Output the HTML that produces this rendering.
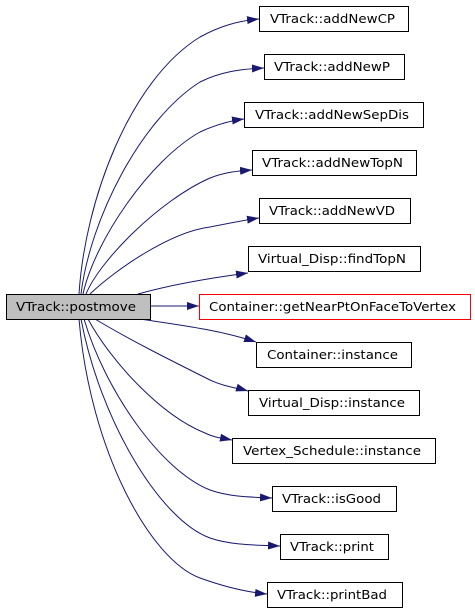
<!DOCTYPE html>
<html><head><style>
body{margin:0;background:#fff;width:475px;height:611px;overflow:hidden}
svg{position:absolute;left:0;top:0}
text{font-family:"DejaVu Sans","Liberation Sans",sans-serif;font-size:12.5px;fill:#000}
</style></head><body>
<svg width="475" height="611" viewBox="0 0 475 611">
<defs><marker id="a" markerWidth="12" markerHeight="8" refX="12" refY="4" orient="auto" markerUnits="userSpaceOnUse"><polygon points="0,0 12,4 0,8" fill="#191970"/></marker></defs>
<g fill="none" stroke="#191970" stroke-width="1" marker-end="url(#a)">
<path d="M79,294 C85,200 130,80 200,37 C220,26 238,21 259,19"/>
<path d="M81,294 C90,220 140,120 200,82 C220,72 240,69 264,68"/>
<path d="M83,294 C95,240 150,160 200,132 C215,125 228,121 244,119"/>
<path d="M86,294 C100,260 160,200 210,178 C225,172 238,171 252,170"/>
<path d="M90,294 C115,270 170,232 210,227 C230,223 245,220 259,218"/>
<path d="M138,294 C170,285 210,278 248,273"/>
<path d="M150,306 L199,306"/>
<path d="M140,319 C180,325 220,330 256,342"/>
<path d="M95,319 C130,340 170,360 210,380 C225,387 238,388 248,391"/>
<path d="M88,319 C110,360 160,415 205,433 C215,438 222,438 232,440"/>
<path d="M84,319 C105,390 160,470 210,490 C230,497 250,497 272,498"/>
<path d="M81,319 C100,420 160,520 210,538 C230,545 255,545 280,546"/>
<path d="M79,319 C90,450 150,560 200,578 C225,587 245,592 267,594"/>
</g>
<g stroke="#000" stroke-width="1">
<rect x="6.5" y="294.5" width="144" height="25" fill="#bfbfbf"/>
<rect x="199.5" y="294.5" width="271" height="25" fill="#fff" stroke="#f00"/>
<rect x="259.5" y="6.5" width="149" height="25" fill="#fff"/>
<rect x="264.5" y="54.5" width="140" height="25" fill="#fff"/>
<rect x="244.5" y="102.5" width="179" height="25" fill="#fff"/>
<rect x="252.5" y="150.5" width="164" height="25" fill="#fff"/>
<rect x="259.5" y="198.5" width="151" height="25" fill="#fff"/>
<rect x="248.5" y="246.5" width="172" height="25" fill="#fff"/>
<rect x="256.5" y="342.5" width="155" height="25" fill="#fff"/>
<rect x="248.5" y="390.5" width="171" height="25" fill="#fff"/>
<rect x="232.5" y="438.5" width="203" height="25" fill="#fff"/>
<rect x="272.5" y="486.5" width="124" height="25" fill="#fff"/>
<rect x="280.5" y="534.5" width="108" height="25" fill="#fff"/>
<rect x="267.5" y="582.5" width="135" height="25" fill="#fff"/>
</g>
<g lengthAdjust="spacingAndGlyphs">
<text x="16" y="311" textLength="120" lengthAdjust="spacingAndGlyphs">VTrack::postmove</text>
<text x="209" y="311" textLength="247" lengthAdjust="spacingAndGlyphs">Container::getNearPtOnFaceToVertex</text>
<text x="270" y="23" textLength="125" lengthAdjust="spacingAndGlyphs">VTrack::addNewCP</text>
<text x="274" y="71" textLength="116" lengthAdjust="spacingAndGlyphs">VTrack::addNewP</text>
<text x="255" y="119" textLength="154" lengthAdjust="spacingAndGlyphs">VTrack::addNewSepDis</text>
<text x="262" y="167" textLength="141" lengthAdjust="spacingAndGlyphs">VTrack::addNewTopN</text>
<text x="269" y="215" textLength="126" lengthAdjust="spacingAndGlyphs">VTrack::addNewVD</text>
<text x="258" y="263" textLength="148" lengthAdjust="spacingAndGlyphs">Virtual_Disp::findTopN</text>
<text x="267" y="359" textLength="131" lengthAdjust="spacingAndGlyphs">Container::instance</text>
<text x="259" y="407" textLength="146" lengthAdjust="spacingAndGlyphs">Virtual_Disp::instance</text>
<text x="243" y="455" textLength="178" lengthAdjust="spacingAndGlyphs">Vertex_Schedule::instance</text>
<text x="282" y="503" textLength="99" lengthAdjust="spacingAndGlyphs">VTrack::isGood</text>
<text x="290" y="551" textLength="84" lengthAdjust="spacingAndGlyphs">VTrack::print</text>
<text x="277" y="599" textLength="110" lengthAdjust="spacingAndGlyphs">VTrack::printBad</text>
</g>
</svg>
</body></html>
